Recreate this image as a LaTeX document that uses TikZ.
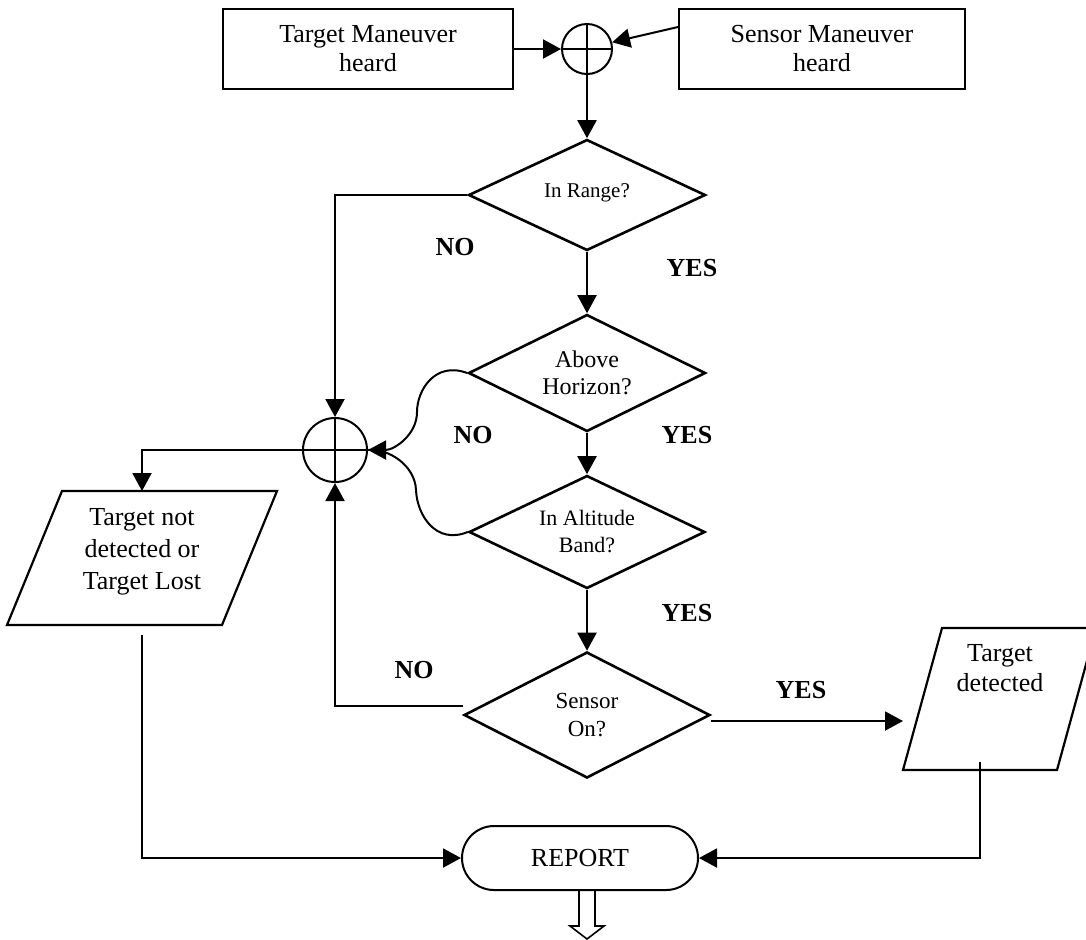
\documentclass[tikz,border=0pt]{standalone}
\usepackage{fontspec}
\setmainfont{Liberation Serif}
\usetikzlibrary{arrows.meta,shapes.geometric,calc}
\begin{document}
\begin{tikzpicture}[x=0.5pt,y=-0.5pt,
  box/.style={draw, line width=1pt, minimum height=40pt, align=center,
    font=\fontsize{13}{14.5}\selectfont, inner sep=0pt},
  dia/.style={diamond, draw, line width=1.3pt, aspect=2, inner sep=0pt, align=center},
  sum/.style={circle, draw, line width=1pt, inner sep=0pt},
  conn/.style={line width=1pt},
  arr/.style={conn, -{Triangle[length=9pt,width=9.5pt]}},
  lab/.style={font=\fontsize{13}{15}\bfseries\selectfont},
  txt/.style={font=\fontsize{13}{16}\selectfont, align=center},
  para/.style={line width=1.1pt}]
\useasboundingbox (0,0) rectangle (1086,939);
\fill[white] (0,0) rectangle (1086,939);
\clip (0,0) rectangle (1086,939);

% top boxes and summing junction
\node[box, minimum width=145pt] (tb) at (368,49) {\raisebox{-3pt}{Target Maneuver}\\\raisebox{-3pt}{heard}};
\node[box, minimum width=143pt] (sb) at (822,49) {\raisebox{-3pt}{Sensor Maneuver}\\\raisebox{-3pt}{heard}};
\node[sum, minimum size=25pt] (tc) at (587,49) {};
\draw[conn] (tc.north) -- (tc.south) (tc.west) -- (tc.east);

% decisions
\node[dia, minimum width=118.5pt, minimum height=55.5pt, font=\fontsize{10.5}{12.5}\selectfont] (ir) at (587,195) {\raisebox{4pt}{In Range?}};
\node[dia, minimum width=118.5pt, minimum height=58.5pt, font=\fontsize{12}{13.5}\selectfont] (ah) at (587,373) {Above\\Horizon?};
\node[dia, minimum width=118pt, minimum height=56.5pt, font=\fontsize{11}{13.5}\selectfont] (alt) at (587,532) {In Altitude\\Band?};
\node[dia, minimum width=123pt, minimum height=63pt, font=\fontsize{11.5}{14}\selectfont] (son) at (587,715) {Sensor\\On?};

% left summing junction
\node[sum, minimum size=32pt] (lc) at (335,450) {};
\draw[conn] (lc.north) -- (lc.south) (lc.west) -- (lc.east);

% report
\node[draw, line width=1pt, rounded corners=16pt, minimum width=118pt, minimum height=32pt,
  font=\fontsize{13}{15}\selectfont, inner sep=0pt] (rep) at (580,858) {REPORT};

% parallelograms
\draw[para] (62,491) -- (277,491) -- (222,625) -- (7,625) -- cycle;
\node[txt] (tnd) at (142,552) {Target not\\detected or\\Target Lost};
\coordinate (tndtop) at (142,491);
\coordinate (tndbot) at (142,635);
\draw[para] (942,628) -- (1096,628) -- (1057,770) -- (903,770) -- cycle;
\node[txt, font=\fontsize{13}{15}\selectfont] (tdt) at (1000,668) {Target\\detected};
\coordinate (tdin) at (903,721);
\coordinate (tdbot) at (980,762);

% inflection points of the curved NO connectors
\coordinate (c1) at (417,412);
\coordinate (c2) at (416,490);

% connectors
\draw[arr] (tb.east) -- (tc.west);
\draw[arr] ($(sb.north west)+(0,19)$) -- (tc.15);
\draw[arr] (tc.south) -- (ir.north);
\draw[arr] (ir.south) -- (ah.north);
\draw[arr] (ah.south) -- (alt.north);
\draw[arr] (alt.south) -- (son.north);
\draw[arr] (ir.west) -| (lc.north);
\draw[conn] (alt.west) .. controls +(-32,13) and +(1,25) .. (c2)
  .. controls +(-1,-25) and +(20,-2) .. (lc.east);
\draw[arr] (ah.west) .. controls +(-32,-12) and +(0,-22) .. (c1)
  .. controls +(0,23) and +(26,0) .. (lc.east);
\draw[arr] ($(son.west)+(0,-9)$) -| (lc.south);
\draw[arr] (lc.west) -| (tndtop);
\draw[arr] ($(son.east)+(0,6)$) -- (tdin);
\draw[arr] (tndbot) |- (rep.west);
\draw[arr] (tdbot) |- (rep.east);

% hollow output arrow
\draw[line width=0.8pt] ($(rep.south)+(-1,0)$) -- ++(0,35) -- ++(-9,0) -- ++(17,13)
  -- ++(17,-13) -- ++(-9,0) -- ++(0,-35);

% labels
\node[lab] (no1) at (455,247) {NO};
\node[lab] (yes1) at (692,268) {YES};
\node[lab] (no2) at (473,435) {NO};
\node[lab] (yes2) at (687,435) {YES};
\node[lab] (yes3) at (687,613) {YES};
\node[lab] (no3) at (414,670) {NO};
\node[lab] (yes4) at (801,690) {YES};
\end{tikzpicture}
\end{document}
